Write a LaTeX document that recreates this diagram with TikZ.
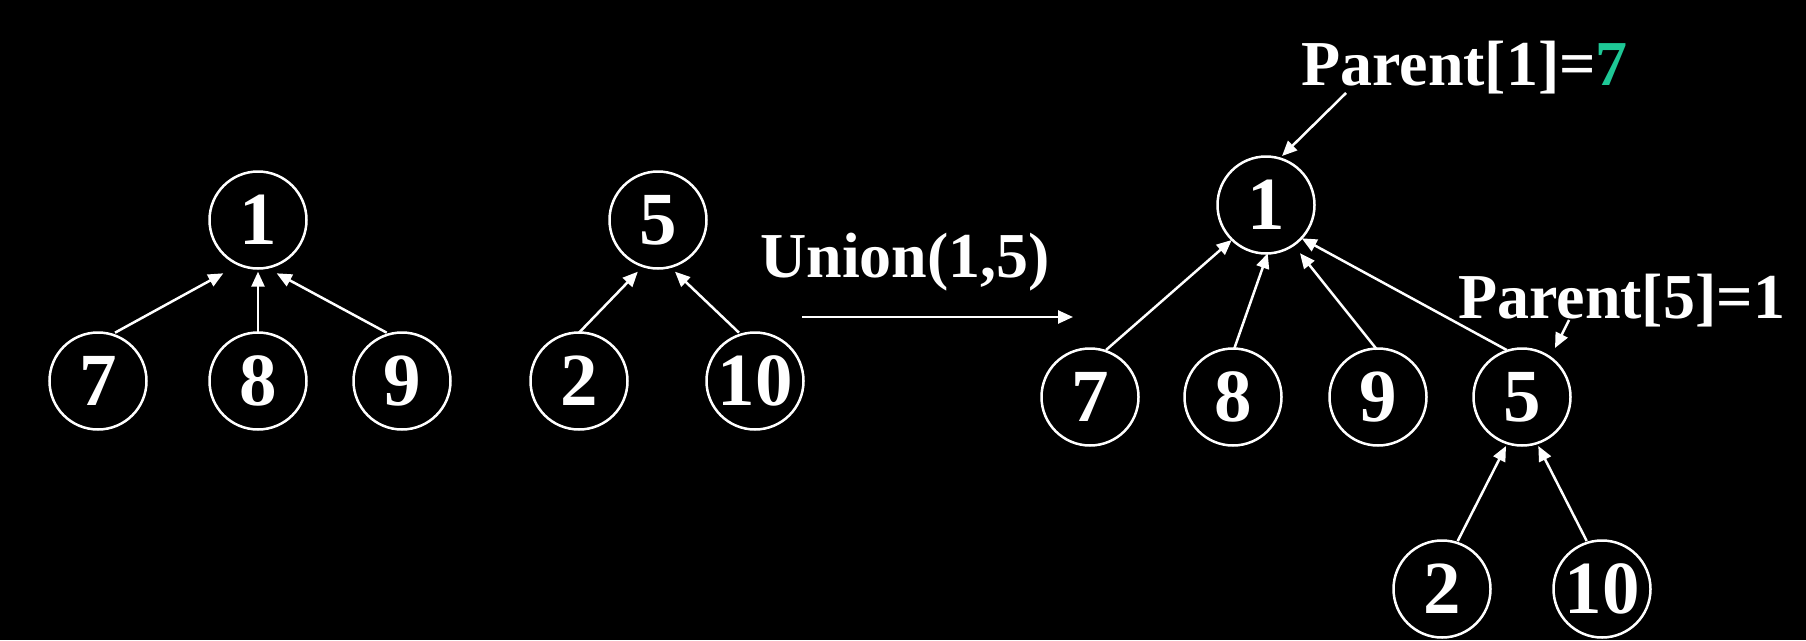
\documentclass[tikz,border=0pt]{standalone}
\usepackage{fontspec}
\setmainfont{Liberation Serif}
\usetikzlibrary{arrows.meta,calc}
\definecolor{teal7}{HTML}{1EC896}
\tikzset{
  nd/.style={circle,draw=white,line width=2.5pt,minimum size=97pt,inner sep=0pt,
    text=white,font=\fontsize{75}{80}\selectfont\bfseries},
  lbl/.style={anchor=base west,inner sep=0pt,text=white,font=\fontsize{64}{70}\selectfont\bfseries},
  ulbl/.style={anchor=base west,inner sep=0pt,text=white,font=\fontsize{64}{70}\selectfont\bfseries},
  arr/.style={draw=white,line width=2.5pt,-{Triangle[length=15pt,width=13pt]}}
}
\begin{document}
\begin{tikzpicture}[x=1pt,y=-1pt]
\fill[black] (0,0) rectangle (1806,640);
% left trees
\node[nd] (L1) at (258,220) {1};
\node[nd] (L7) at (98,381) {7};
\node[nd] (L8) at (258,381) {8};
\node[nd] (L9) at (402,381) {9};
\node[nd] (L5) at (658,220) {5};
\node[nd] (L2) at (579,381) {2};
\node[nd] (L10) at (755,381) {10};
% right tree
\node[nd] (R1) at (1266,205) {1};
\node[nd] (R7) at (1090,397) {7};
\node[nd] (R8) at (1233,397) {8};
\node[nd] (R9) at (1378,397) {9};
\node[nd] (R5) at (1522,397) {5};
\node[nd] (R2) at (1442,589) {2};
\node[nd] (R10) at (1602,589) {10};
% labels
\node[ulbl] (U) at (760,277) {Union(1,5)};
\node[lbl] (P1) at (1301,85) {Parent[1]=\textcolor{teal7}{7}};
\node[lbl] (P5) at (1458,318) {Parent[5]=1};
\coordinate (ua) at (802,317);
\coordinate (ub) at (1073,317);
% edges left
\draw[arr] ($(L7)+(17,-48.3)$) -- ($(L1)+(-34.7,53.3)$);
\draw[arr] ($(L8)+(0,-48.3)$) -- ($(L1)+(0,51.7)$);
\draw[arr] ($(L9)+(-15.3,-48.3)$) -- ($(L1)+(18.7,53.3)$);
\draw[arr] ($(L2)+(0,-48.3)$) -- ($(L5)+(-20.2,51.7)$);
\draw[arr] ($(L10)+(-16,-48.3)$) -- ($(L5)+(17,51.7)$);
% edges right
\draw[arr] ($(R7)+(16,-47)$) -- ($(R1)+(-34.3,35)$);
\draw[arr] ($(R8)+(1,-47.7)$) -- ($(R1)+(1.7,48.3)$);
\draw[arr] ($(R9)+(-1.3,-47.7)$) -- ($(R1)+(34,48.3)$);
\draw[arr] ($(R5)+(-15.3,-47)$) -- ($(R1)+(35.7,33.3)$);
\draw[arr] ($(R2)+(15.7,-48)$) -- ($(R5)+(-16,49)$);
\draw[arr] ($(R10)+(-15.3,-48)$) -- ($(R5)+(16.3,49)$);
% label arrows
\draw[arr] ($(P1.base west)+(45,8)$) -- ($(R1)+(16,-49)$);
\draw[arr] ($(P5.base west)+(111,2)$) -- ($(R5)+(33,-49)$);
\draw[arr] (ua) -- (ub);
\end{tikzpicture}
\end{document}
